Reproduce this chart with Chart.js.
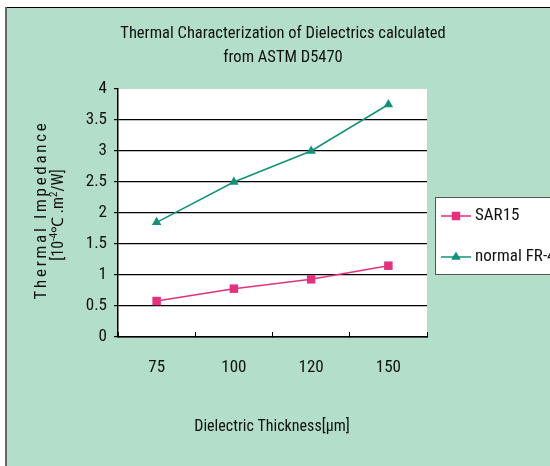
<!DOCTYPE html>
<html>
<head>
<meta charset="utf-8">
<script src="https://cdn.jsdelivr.net/npm/chart.js@4/dist/chart.umd.min.js"></script>
<style>
  html, body { margin: 0; padding: 0; background: #fff; }
  #wrap { width: 550px; height: 466px; }
</style>
</head>
<body>
<div id="wrap"><canvas id="chart" width="550" height="466"></canvas></div>
<script>
// dados do gráfico
const thickness = ['75', '100', '120', '150'];
const sar15 = [0.58, 0.78, 0.93, 1.15];
const fr4 = [1.85, 2.5, 3.0, 3.75];
const yTicks = { min: 0, max: 4, step: 0.5 };

const FONT = "'Roboto Condensed', 'Liberation Sans', sans-serif";
const PINK = '#e2317f';
const GREEN = '#13907a';
const BG = '#b3dec9';

// fundo, bordas, títulos e legenda
const decor = {
  id: 'decor',
  beforeDraw(chart) {
    const ctx = chart.ctx;
    ctx.save();
    ctx.fillStyle = '#fff';
    ctx.fillRect(0, 0, 550, 466);
    ctx.fillStyle = BG;
    ctx.fillRect(7, 8, 543, 458);
    ctx.strokeStyle = '#000';
    ctx.lineWidth = 1;
    ctx.beginPath(); ctx.moveTo(6, 7.5); ctx.lineTo(550, 7.5); ctx.stroke();
    ctx.strokeStyle = '#666';
    ctx.lineWidth = 2;
    ctx.beginPath(); ctx.moveTo(6, 7); ctx.lineTo(6, 466); ctx.stroke();
    // área do gráfico
    const a = chart.chartArea;
    ctx.fillStyle = '#fff';
    ctx.fillRect(a.left, a.top, a.right - a.left, a.bottom - a.top);
    ctx.restore();
  },
  afterDraw(chart) {
    const ctx = chart.ctx;
    ctx.save();
    ctx.fillStyle = '#111';
    ctx.textAlign = 'center';
    ctx.textBaseline = 'middle';
    ctx.font = '16.5px ' + FONT;
    ctx.fillText('Thermal Characterization of Dielectrics calculated', 283, 34);
    ctx.fillText('from ASTM D5470', 283, 58);

    ctx.font = '16px ' + FONT;
    ctx.fillText('Dielectric Thickness[μm]', 272, 427);

    // título do eixo Y (rotacionado)
    ctx.save();
    ctx.translate(42, 210);
    ctx.rotate(-Math.PI / 2);
    ctx.font = '17px ' + FONT;
    ctx.letterSpacing = '2.7px';
    ctx.fillText('Thermal Impedance', 0, 0);
    ctx.letterSpacing = '0px';
    ctx.restore();

    ctx.save();
    ctx.translate(59, 215);
    ctx.rotate(-Math.PI / 2);
    const parts = [['[10', 0], ['-4', 1], ['℃ .m', 0], ['2', 1], ['/W]', 0]];
    let total = 0;
    parts.forEach(p => {
      ctx.font = (p[1] ? '11px ' : '16px ') + FONT;
      total += ctx.measureText(p[0]).width;
    });
    let x = -total / 2;
    ctx.textAlign = 'left';
    parts.forEach(p => {
      ctx.font = (p[1] ? '11px ' : '16px ') + FONT;
      ctx.fillText(p[0], x, p[1] ? -5 : 0);
      x += ctx.measureText(p[0]).width;
    });
    ctx.restore();

    // legenda
    ctx.fillStyle = '#fff';
    ctx.fillRect(435, 197, 120, 77);
    ctx.strokeStyle = '#555';
    ctx.lineWidth = 1;
    ctx.strokeRect(435.5, 197.5, 120, 77);
    const rows = [216, 257];
    chart.data.datasets.forEach((ds, i) => {
      const y = rows[i];
      ctx.strokeStyle = ds.borderColor;
      ctx.lineWidth = 1.5;
      ctx.beginPath(); ctx.moveTo(441, y); ctx.lineTo(471, y); ctx.stroke();
      ctx.fillStyle = ds.pointBackgroundColor;
      Chart.helpers.drawPoint(ctx, {
        pointStyle: ds.pointStyle, radius: ds.pointRadius, rotation: 0, borderWidth: 0
      }, 456, y);
      ctx.fillStyle = '#111';
      ctx.font = '17px ' + FONT;
      ctx.textAlign = 'left';
      ctx.fillText(ds.label, 475, y);
    });
    ctx.restore();
  }
};

new Chart(document.getElementById('chart').getContext('2d'), {
  type: 'line',
  data: {
    labels: thickness,
    datasets: [
      {
        label: 'SAR15',
        data: sar15,
        borderColor: PINK,
        backgroundColor: PINK,
        pointBackgroundColor: PINK,
        pointBorderColor: PINK,
        pointBorderWidth: 0,
        pointStyle: 'rect',
        pointRadius: 6,
        borderWidth: 1.5,
        tension: 0
      },
      {
        label: 'normal FR-4',
        data: fr4,
        borderColor: GREEN,
        backgroundColor: GREEN,
        pointBackgroundColor: GREEN,
        pointBorderColor: GREEN,
        pointBorderWidth: 0,
        pointStyle: 'triangle',
        pointRadius: 5.5,
        borderWidth: 1.5,
        tension: 0
      }
    ]
  },
  options: {
    responsive: false,
    animation: false,
    devicePixelRatio: 1,
    layout: { padding: { left: 0, top: 89, right: 123, bottom: 0 } },
    plugins: {
      legend: { display: false },
      title: { display: false },
      tooltip: { enabled: false }
    },
    scales: {
      x: {
        offset: true,
        afterFit(scale) { scale.height = 129; },
        grid: {
          display: true,
          drawOnChartArea: false,
          offset: true,
          color: '#000',
          tickColor: '#000',
          tickLength: -5
        },
        border: { display: true, color: '#000', width: 1.5 },
        ticks: { color: '#111', font: { family: FONT, size: 17 }, padding: 26 }
      },
      y: {
        min: yTicks.min,
        max: yTicks.max,
        afterFit(scale) { scale.width = 118; },
        grid: {
          color: ctx => (ctx.tick && ctx.tick.value === yTicks.max) ? 'rgba(0,0,0,0)' : '#000',
          tickColor: '#000',
          tickLength: 4,
          lineWidth: 1.2
        },
        border: { display: true, color: '#000', width: 1.5 },
        ticks: {
          stepSize: yTicks.step,
          color: '#111',
          font: { family: FONT, size: 17 },
          padding: 7,
          callback: v => String(v)
        }
      }
    }
  },
  plugins: [decor]
});
</script>
</body>
</html>
